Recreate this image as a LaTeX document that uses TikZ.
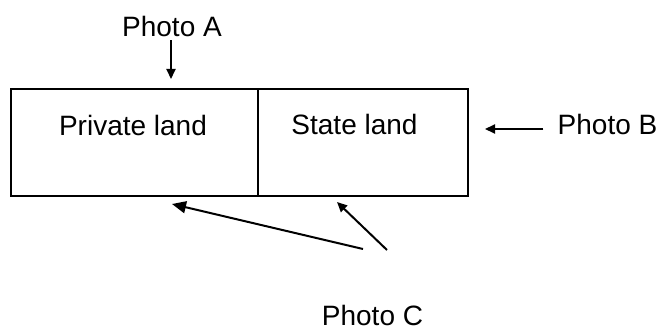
\documentclass[tikz,border=0pt]{standalone}
\usepackage{fontspec}
\setmainfont{Liberation Sans}
\usetikzlibrary{arrows.meta}

\tikzset{
  landbox/.style={draw=black, line width=2pt, minimum height=106.5pt, inner sep=0pt},
  lbl/.style={anchor=base, inner sep=0pt, font=\fontsize{28}{34}\selectfont},
  arr/.style={line width=2pt, -{Triangle[length=10pt,width=9pt]}},
  bigarr/.style={line width=2pt, -{Triangle[length=14pt,width=12pt]}}
}

\begin{document}
\begin{tikzpicture}[x=1pt,y=-1pt]

\useasboundingbox (0,0) rectangle (659,329);

\node[landbox, minimum width=246.5pt] (L_1) at (134.25,142.75) {};
\node[landbox, minimum width=210.5pt] (L_2) at (362.75,142.75) {};
\node[lbl] (T_1) at (133,135.5) {Private land};
\node[lbl] (T_2) at (354.5,135) {State land};

\node[lbl] (P_A) at (172,37) {Photo A};
\node[lbl] (P_B) at (607.5,135) {Photo B};
\node[lbl] (P_C) at (372.5,325.5) {Photo C};

\coordinate (E_A) at (171,79);
\coordinate (E_B) at (485,129);
\coordinate (S_1) at (363,249);
\coordinate (E_1) at (172,204);
\coordinate (S_2) at (387,250);
\coordinate (E_2) at (337,202);

\draw[arr, shorten <=3pt] (P_A.south -| E_A) -- (E_A);
\draw[arr, shorten <=14pt] (P_B.west |- E_B) -- (E_B);
\draw[bigarr] (S_1) -- (E_1);
\draw[arr] (S_2) -- (E_2);

\end{tikzpicture}
\end{document}
